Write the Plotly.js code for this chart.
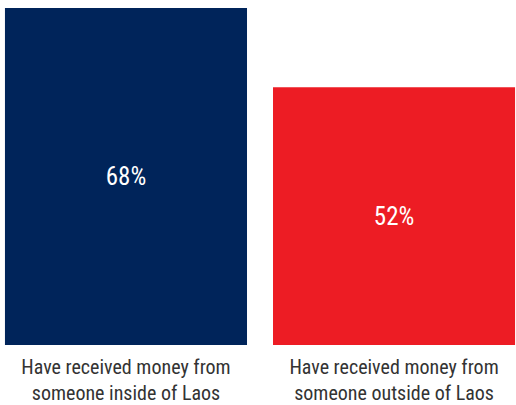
<!DOCTYPE html>
<html>
<head>
<meta charset="utf-8">
<script src="https://cdn.plot.ly/plotly-3.0.1.min.js"></script>
<style>html,body{margin:0;padding:0;background:#fff;}#chart{width:516px;height:405px;}</style>
</head>
<body>
<div id="chart"></div>
<script>
const categories = ["Have received money from<br>someone inside of Laos", "Have received money from<br>someone outside of Laos"];
const values = [68, 52];
const valueLabels = ["68%", "52%"];
const barColors = ["#00245a", "#ed1c24"];

const FONT = "'Liberation Sans Narrow', 'Roboto Condensed', Roboto, sans-serif";

Plotly.newPlot("chart", [{
  type: "bar",
  x: [0, 1],
  y: values,
  width: 0.903,
  marker: {color: barColors, line: {width: 0}},
  text: valueLabels,
  textposition: "inside",
  insidetextanchor: "middle",
  textangle: 0,
  textfont: {family: FONT, size: 25, color: "#ffffff"},
  hoverinfo: "none"
}], {
  width: 516, height: 405,
  margin: {l: 0, r: 0, t: 0, b: 60, pad: 0},
  paper_bgcolor: "#ffffff", plot_bgcolor: "#ffffff",
  showlegend: false,
  xaxis: {
    range: [-0.470, 1.455],
    tickmode: "array", tickvals: [0, 1], ticktext: categories,
    showgrid: false, zeroline: false, showline: false,
    ticks: "outside", ticklen: 4, tickcolor: "rgba(0,0,0,0)",
    tickfont: {family: FONT, size: 20, color: "#333333"},
    fixedrange: true
  },
  yaxis: {
    range: [0, 69.6], visible: false, showgrid: false, zeroline: false, fixedrange: true
  }
}, {staticPlot: true});
</script>
</body>
</html>
